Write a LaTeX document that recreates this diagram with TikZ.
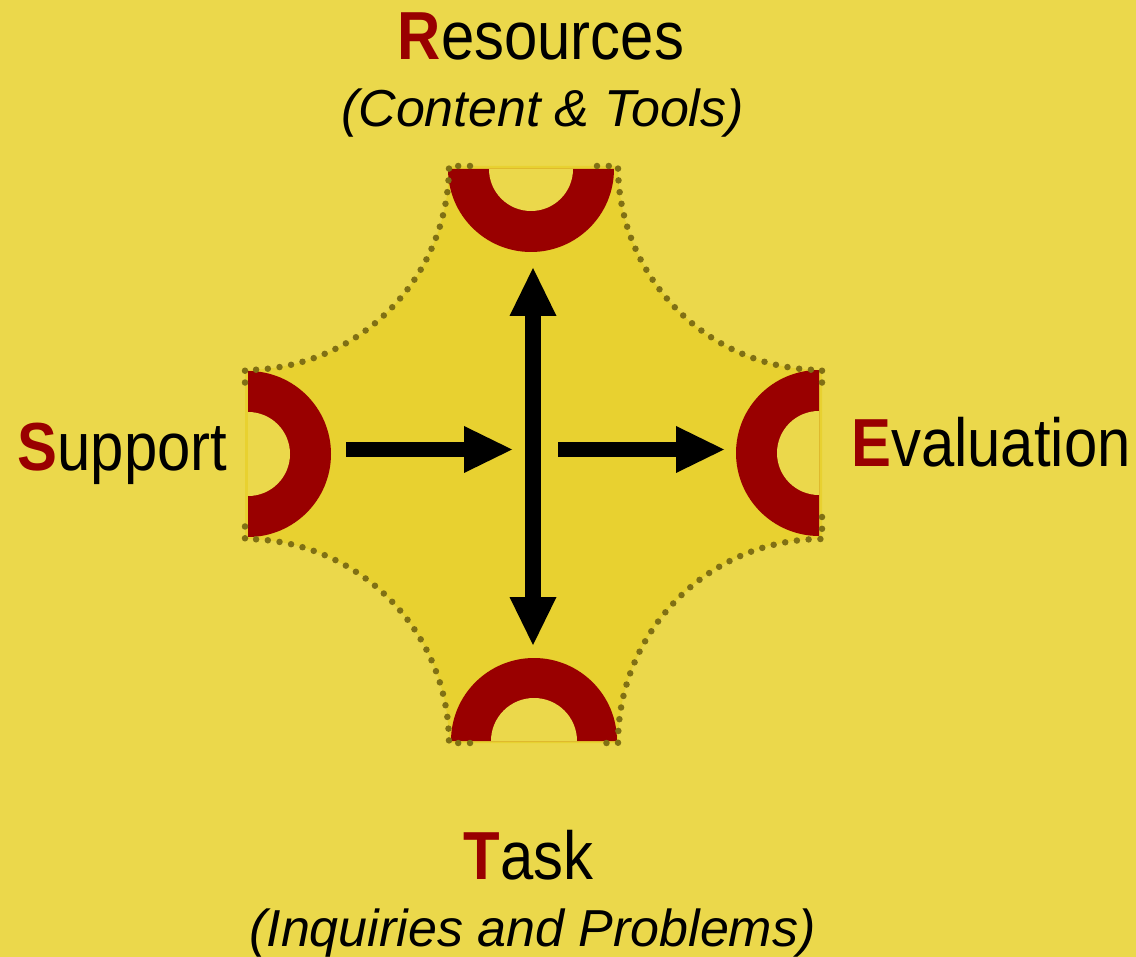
\documentclass[tikz,border=0pt]{standalone}
\usepackage{fontspec}
\setmainfont{Liberation Sans}
\newfontfamily\titlefont{Liberation Sans}[FakeStretch=0.88]
\usepackage{tikz}
\usetikzlibrary{arrows.meta,positioning}

\definecolor{bgyellow}{RGB}{235,216,75}
\definecolor{inyellow}{RGB}{232,209,48}
\definecolor{ringred}{RGB}{153,0,0}
\definecolor{dotolive}{RGB}{128,112,20}

\begin{document}
\begin{tikzpicture}[x=1pt,y=-1pt,
    ring/.style={fill=ringred},
    hole/.style={fill=bgyellow},
    dotline/.style={draw=dotolive, line width=6.5pt, line cap=round, dash pattern=on 0pt off 11.8pt},
    flow/.style={line width=15.5pt, -{Triangle[length=48pt,width=47pt,line width=0pt]}},
    flowboth/.style={line width=15.5pt, {Triangle[length=48pt,width=47pt,line width=0pt]}-{Triangle[length=48pt,width=47pt,line width=0pt]}},
    title/.style={font=\titlefont\fontsize{68}{80}\selectfont, anchor=base, inner sep=0pt},
    subtitle/.style={font=\fontsize{52}{62}\selectfont\itshape, anchor=base, inner sep=0pt}]
    % Background
    \useasboundingbox (0,0) rectangle (1136,957);
    \fill[bgyellow] (0,0) rectangle (1136,957);

    % Inner area with concave corners
    \fill[inyellow] (449,166) -- (618,166) arc[start angle=180,end angle=90,radius=204]
        -- (822,539) arc[start angle=270,end angle=180,radius=204]
        -- (449,743) arc[start angle=0,end angle=-90,radius=204]
        -- (245,370) arc[start angle=90,end angle=0,radius=204] -- cycle;

    % Half rings
    \fill[ring] (614,169) arc[start angle=0,end angle=180,radius=83] -- cycle;
    \fill[hole] (573,169) arc[start angle=0,end angle=180,radius=42] -- cycle;
    \fill[ring] (451,741) arc[start angle=180,end angle=360,radius=83] -- cycle;
    \fill[hole] (491,741) arc[start angle=180,end angle=360,radius=43] -- cycle;
    \fill[ring] (248,371) arc[start angle=-90,end angle=90,radius=83] -- cycle;
    \fill[hole] (248,412) arc[start angle=-90,end angle=90,radius=42] -- cycle;
    \fill[ring] (819,370) arc[start angle=270,end angle=90,radius=83] -- cycle;
    \fill[hole] (819,411) arc[start angle=270,end angle=90,radius=42] -- cycle;

    % Dotted borders
    \draw[dotline] (470,166) -- (449,166) arc[start angle=0,end angle=90,radius=204] -- (245,392);
    \draw[dotline] (597,166) -- (618,166) arc[start angle=180,end angle=90,radius=204] -- (822,392);
    \draw[dotline] (822,517) -- (822,539) arc[start angle=270,end angle=180,radius=204] -- (597,743);
    \draw[dotline] (470,743) -- (449,743) arc[start angle=0,end angle=-90,radius=204] -- (245,517);

    % Arrows
    \coordinate (supOut) at (346,449.5);
    \coordinate (hubW) at (512,449.5);
    \coordinate (hubE) at (558,449.5);
    \coordinate (evaIn) at (724,449.5);
    \coordinate (resIn) at (533,268);
    \coordinate (taskIn) at (533,645);
    \draw[flow] (supOut) -- (hubW);
    \draw[flow] (hubE) -- (evaIn);
    \draw[flowboth] (taskIn) -- (resIn);

    % Labels
    \node[title] (res) at (541,60) {\textcolor{ringred}{\bfseries R}esources};
    \node[subtitle] (resSub) at (542.5,127) {(Content \& Tools)};
    \node[title] (task) at (528.5,879) {\textcolor{ringred}{\bfseries T}ask};
    \node[subtitle] (taskSub) at (532.5,946) {(Inquiries and Problems)};
    \node[title] (sup) at (122.5,471) {\textcolor{ringred}{\bfseries S}upport};
    \node[title] (eva) at (991,467) {\textcolor{ringred}{\bfseries E}valuation};
\end{tikzpicture}
\end{document}
